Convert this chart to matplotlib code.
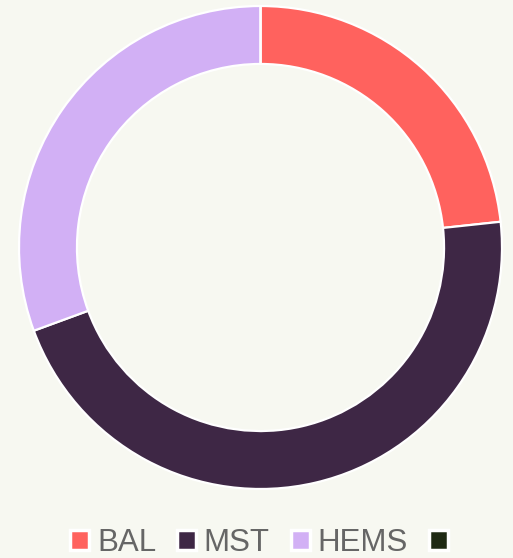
import matplotlib.pyplot as plt
from matplotlib.patches import Patch

# veri
labels = ["BAL", "MST", "HEMS", ""]
values = [23.3, 46.1, 30.6, 0]
colors = ["#ff625e", "#3e2745", "#d2b0f5", "#1f2a14"]
bg = "#f7f8f1"

fig = plt.figure(figsize=(5.13, 5.58), dpi=100, facecolor=bg)
ax = fig.add_axes([0, 0, 1, 1])
ax.set_facecolor(bg)

cx, cy, r = 260.5, 558 - 247.5, 241.5
ax.pie(values, colors=colors, startangle=90, counterclock=False,
       center=(cx, cy), radius=r,
       wedgeprops=dict(width=r * 0.24, edgecolor="white", linewidth=1.6))
ax.set_xlim(0, 513)
ax.set_ylim(0, 558)
ax.axis("off")

handles = [Patch(facecolor=c, edgecolor="white", linewidth=2.5) for c in colors]
leg = ax.legend(handles, labels, loc="center", bbox_to_anchor=(263 / 513, 1 - 543 / 558),
                ncol=4, frameon=False, labelcolor="#666666",
                handlelength=0.6, handleheight=0.6, handletextpad=0.25, columnspacing=0.68,
                prop={"family": "Liberation Sans", "size": 22.5})

fig.savefig("out.png", dpi=100, facecolor=bg)
